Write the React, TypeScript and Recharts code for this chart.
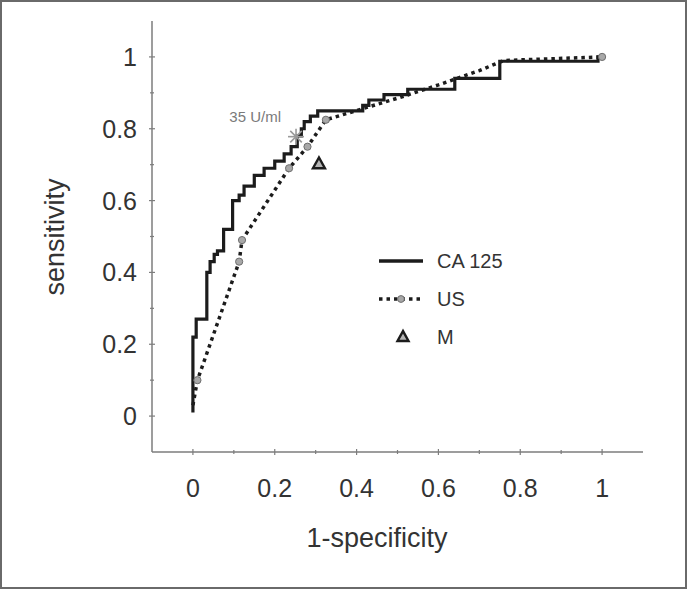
import { ComposedChart, Line, Scatter, XAxis, YAxis } from "recharts";

// CA 125 ROC (step curve)
const caFpr = [0, 0, 0.008, 0.034, 0.042, 0.052, 0.06, 0.075, 0.097, 0.113, 0.125, 0.15, 0.174, 0.2, 0.223, 0.24, 0.255, 0.265, 0.272, 0.287, 0.305, 0.415, 0.43, 0.467, 0.525, 0.64, 0.75, 0.99, 1];
const caTpr = [0.01, 0.22, 0.27, 0.4, 0.43, 0.45, 0.46, 0.52, 0.6, 0.615, 0.64, 0.67, 0.69, 0.71, 0.73, 0.75, 0.78, 0.8, 0.82, 0.835, 0.85, 0.865, 0.88, 0.895, 0.91, 0.94, 0.988, 1, 1];

// US ROC (dotted), with the operating points that carry a marker
const usFpr = [0, 0.011, 0.113, 0.12, 0.235, 0.28, 0.325, 0.5, 0.6, 0.7, 0.76, 1];
const usTpr = [0.03, 0.1, 0.43, 0.49, 0.69, 0.75, 0.825, 0.885, 0.922, 0.962, 0.99, 1];
const usMarked = [false, true, true, true, true, true, true, false, false, false, false, true];

// single points
const cutoff = [{ x: 0.252, y: 0.778, label: "35 U/ml" }];
const mPoint = [{ x: 0.308, y: 0.705 }];

const ticks = [0, 0.1, 0.2, 0.3, 0.4, 0.5, 0.6, 0.7, 0.8, 0.9, 1];
const legendNames = ["CA 125", "US", "M"];

const caData = caFpr.map((x, i) => ({ x, y: caTpr[i] }));
const usData = usFpr.map((x, i) => ({ x, y: usTpr[i], mark: usMarked[i] }));

const FONT = "'Liberation Sans', Arial, sans-serif";
const AXIS = "#7d7d7d";
const INK = "#1c1c1c";

const isMajor = (v: number) => Math.round(v * 10) % 2 === 0;
const fmt = (v: number) => (v === 0 ? "0" : v === 1 ? "1" : v.toFixed(1));

function XTick({ x, y, payload }: any) {
  const v = payload.value;
  const major = isMajor(v);
  return (
    <g>
      <line x1={x} x2={x} y1={y - (major ? 3 : 2)} y2={y + (major ? 3 : 2)} stroke={AXIS} strokeWidth={1.2} />
      {major && (
        <text x={x} y={y + 45} textAnchor="middle" fontSize={25} fill="#333" fontFamily={FONT}>
          {fmt(v)}
        </text>
      )}
    </g>
  );
}

function YTick({ x, y, payload }: any) {
  const v = payload.value;
  const major = isMajor(v);
  return (
    <g>
      <line x1={x - (major ? 3 : 2)} x2={x + (major ? 3 : 2)} y1={y} y2={y} stroke={AXIS} strokeWidth={1.2} />
      {major && (
        <text x={x - 15} y={y + 9} textAnchor="end" fontSize={25} fill="#333" fontFamily={FONT}>
          {fmt(v)}
        </text>
      )}
    </g>
  );
}

function UsDot(props: any) {
  const { cx, cy, payload } = props;
  if (!payload.mark) return <g />;
  return <circle cx={cx} cy={cy} r={3.6} fill="#a8a8a8" stroke="#6e6e6e" strokeWidth={1} />;
}

function CutoffShape(props: any) {
  const { cx, cy, payload } = props;
  const r = 8;
  const d = r * 0.72;
  return (
    <g stroke="#9a9a9a" strokeWidth={1.6}>
      <line x1={cx} x2={cx} y1={cy - r} y2={cy + r} />
      <line x1={cx - r} x2={cx + r} y1={cy} y2={cy} />
      <line x1={cx - d} x2={cx + d} y1={cy - d} y2={cy + d} />
      <line x1={cx - d} x2={cx + d} y1={cy + d} y2={cy - d} />
      <text x={cx - 15} y={cy - 15} textAnchor="end" fontSize={15} fill="#7a7a7a" stroke="none" fontFamily={FONT}>
        {payload.label}
      </text>
    </g>
  );
}

function Triangle({ cx, cy, s = 12 }: { cx: number; cy: number; s?: number }) {
  const h = s * 0.9;
  return (
    <polygon
      points={`${cx},${cy - h / 2} ${cx - s / 2},${cy + h / 2} ${cx + s / 2},${cy + h / 2}`}
      fill="#b5b5b5"
      stroke={INK}
      strokeWidth={2.4}
      strokeLinejoin="miter"
    />
  );
}

function MShape(props: any) {
  return <Triangle cx={props.cx} cy={props.cy} />;
}

function Overlay() {
  return (
    <svg width={687} height={589} style={{ position: "absolute", left: 0, top: 0, pointerEvents: "none" }} fontFamily={FONT}>
      <text x={377} y={547} textAnchor="middle" fontSize={27} fill="#333">
        1-specificity
      </text>
      <text transform="translate(64,237) rotate(-90)" textAnchor="middle" fontSize={27} fill="#333">
        sensitivity
      </text>
      {/* legend */}
      <line x1={379} x2={423} y1={261} y2={261} stroke={INK} strokeWidth={3.5} />
      <line x1={379} x2={423} y1={299} y2={299} stroke={INK} strokeWidth={3.5} strokeDasharray="3.5 4" />
      <circle cx={401} cy={299} r={3.4} fill="#a8a8a8" stroke="#6e6e6e" />
      <Triangle cx={403} cy={336} s={11} />
      {legendNames.map((n, i) => (
        <text key={n} x={437} y={268 + i * 38} fontSize={20} fill="#333">
          {n}
        </text>
      ))}
    </svg>
  );
}

export default function App() {
  return (
    <div
      style={{
        position: "absolute",
        left: 0,
        top: 0,
        width: 687,
        height: 589,
        boxSizing: "border-box",
        border: "2px solid #6a6a6a",
        background: "#fff",
      }}
    >
      <div style={{ position: "absolute", left: -2, top: -2 }}>
        <ComposedChart width={687} height={589} margin={{ top: 21, right: 44, bottom: 77, left: 92 }}>
          <XAxis
            type="number"
            dataKey="x"
            domain={[-0.1, 1.1]}
            ticks={ticks}
            height={60}
            axisLine={{ stroke: AXIS, strokeWidth: 1.5 }}
            tickLine={false}
            tickSize={0}
            tickMargin={0}
            tick={<XTick />}
            interval={0}
            allowDuplicatedCategory={false}
          />
          <YAxis
            type="number"
            dataKey="y"
            domain={[-0.1, 1.1]}
            ticks={ticks}
            width={60}
            axisLine={{ stroke: AXIS, strokeWidth: 1.5 }}
            tickLine={false}
            tickSize={0}
            tickMargin={0}
            tick={<YTick />}
            interval={0}
          />
          <Line
            data={usData}
            dataKey="y"
            type="linear"
            stroke={INK}
            strokeWidth={3.5}
            strokeDasharray="3.5 4"
            dot={<UsDot />}
            activeDot={false}
            isAnimationActive={false}
          />
          <Line
            data={caData}
            dataKey="y"
            type="stepAfter"
            stroke={INK}
            strokeWidth={3.2}
            dot={false}
            activeDot={false}
            isAnimationActive={false}
          />
          <Scatter data={cutoff} dataKey="y" shape={<CutoffShape />} isAnimationActive={false} />
          <Scatter data={mPoint} dataKey="y" shape={<MShape />} isAnimationActive={false} />
        </ComposedChart>
        <Overlay />
      </div>
    </div>
  );
}
